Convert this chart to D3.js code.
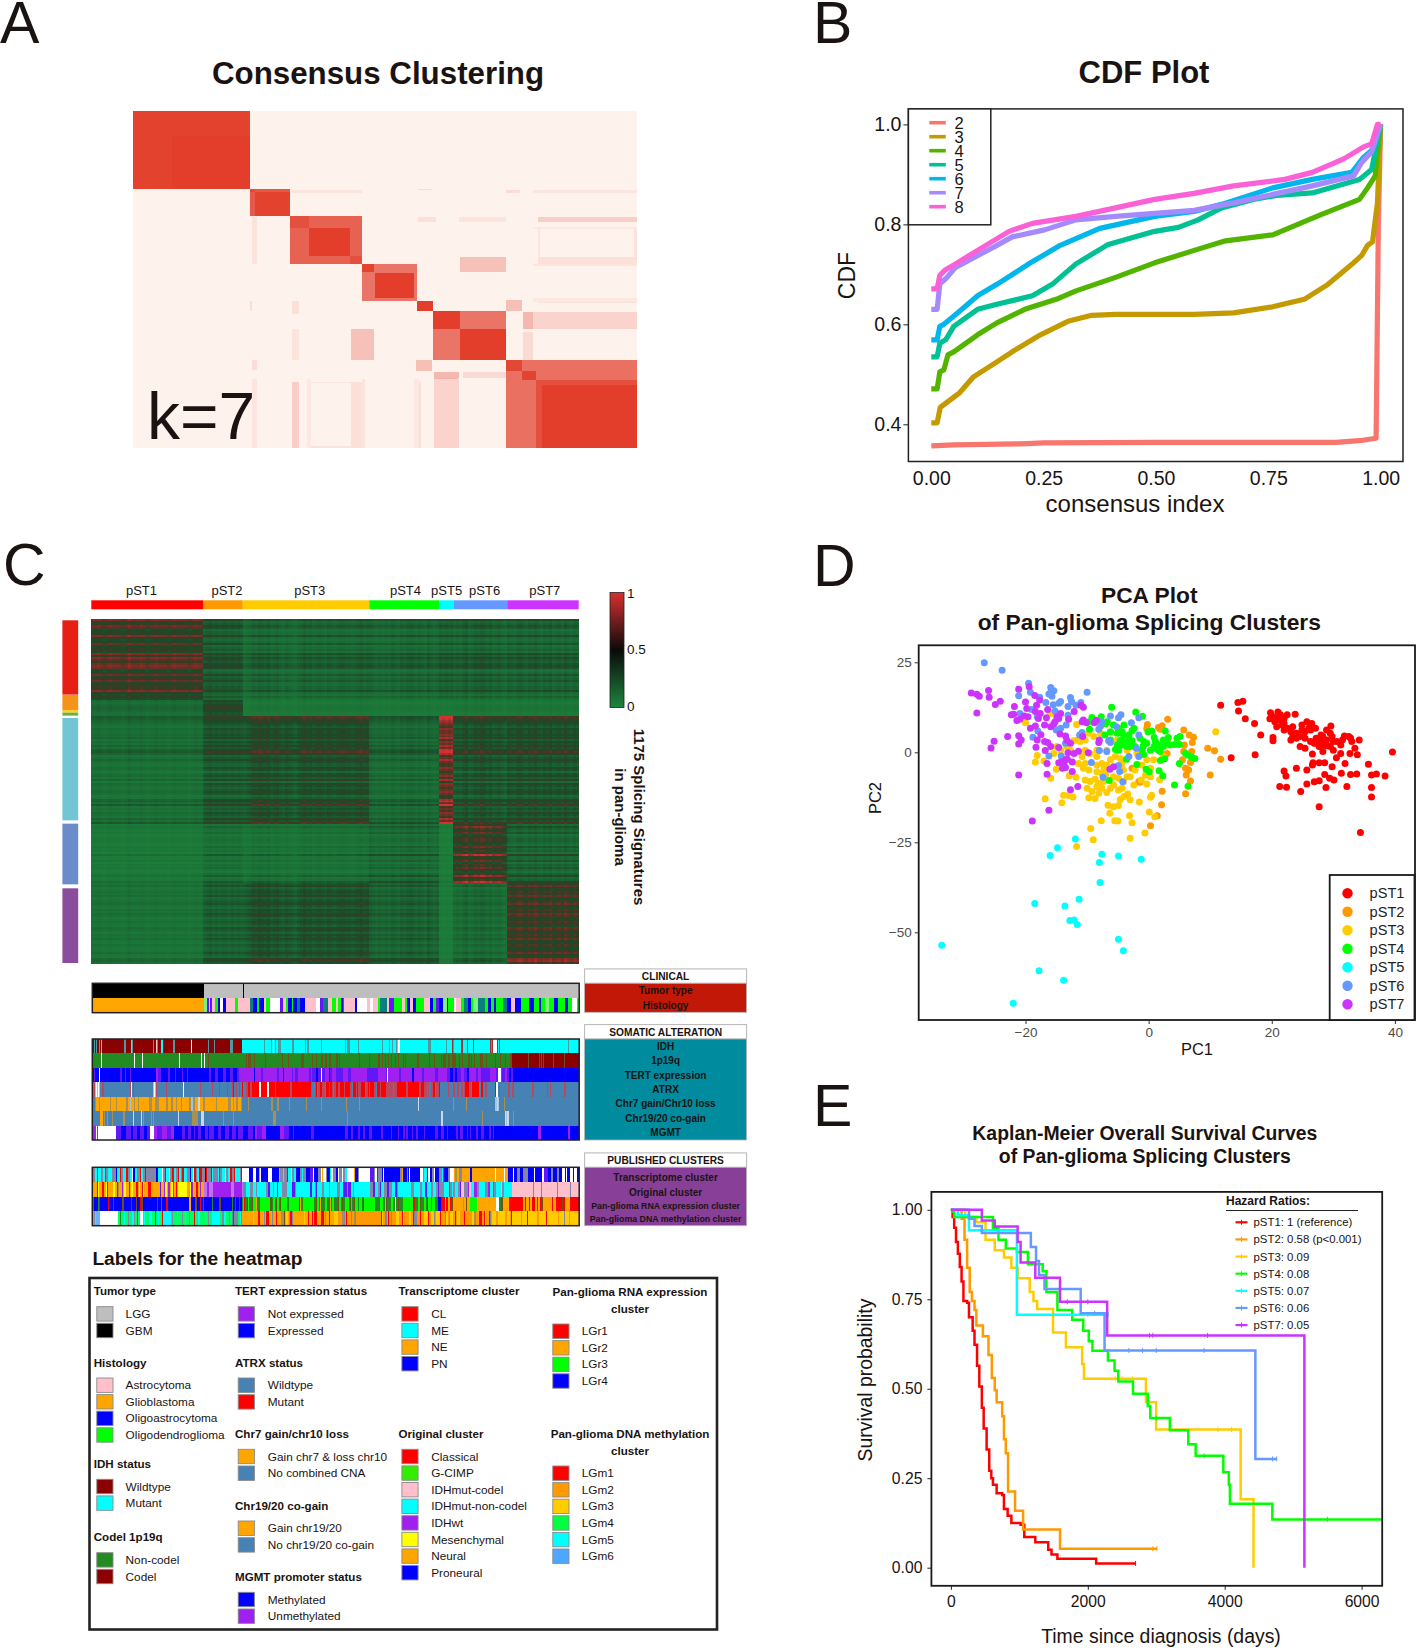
<!DOCTYPE html>
<html><head><meta charset="utf-8"><title>Pan-glioma splicing clusters</title>
<script src="https://cdnjs.cloudflare.com/ajax/libs/d3/7.8.5/d3.min.js"></script>
<style>html,body{margin:0;padding:0;background:#fff}svg{display:block}text{font-family:"Liberation Sans",Arial,sans-serif;fill:#1a1311}</style>
</head><body><svg id="c" width="1418" height="1648" xmlns="http://www.w3.org/2000/svg"></svg>
<script>
// ---------- DATA ----------
const clusterNames=["pST1","pST2","pST3","pST4","pST5","pST6","pST7"];
const clusterColors=["#FF0000","#FF9900","#FFCC00","#00FF00","#00FFFF","#6699FF","#CC33FF"];

// Panel A: consensus values on the sample order [rowFrom,rowTo,colFrom,colTo,consensus]
const consensusSamples=1115;
const consensusPatches=[
[262,273,365,505,.08],[257,262,630,660,.12],[262,273,825,855,.12],[262,273,885,1115,.07],[262,273,350,505,.08],
[350,366,895,1115,.2],[388,482,895,900,.07],[388,482,1108,1115,.09],[482,510,895,1115,.1],[350,366,630,670,.1],[350,366,720,825,.08],
[625,636,895,1115,.1],[625,660,825,860,.28],[664,719,865,1115,.2],[664,719,865,885,.36],[482,532,722,825,.27],
[862,884,665,720,.32],[862,884,730,825,.13],[885,1115,385,392,.06],[885,1115,505,512,.08],[885,1115,665,720,.17],[885,1115,620,632,.06],
[0,257,0,257,.98],[85,257,85,257,1],
[257,347,257,347,.85],[268,347,268,347,.98],[257,270,257,270,.93],
[347,505,347,505,.8],[388,480,388,480,1],[347,388,347,388,.9],[480,505,480,505,.9],
[505,628,505,628,.7],[505,532,505,532,.97],[535,620,535,620,1],
[628,662,628,662,1],
[662,825,662,825,.7],[662,722,662,722,1],[722,825,722,825,1],
[825,1115,825,1115,.72],[825,860,825,860,.95],[860,890,860,890,.97],[890,1115,890,1115,.9],[905,1115,905,1115,1]];

// Panel B: CDF curves [consensus index, CDF]
const cdfLabels=["2","3","4","5","6","7","8"];
const cdfColors=["#F8766D","#C49A00","#53B400","#00C094","#00B6EB","#A58AFF","#FB61D7"];
const cdf2=[[0,.357],[.05,.359],[.2,.361],[.25,.363],[.5,.364],[.9,.364],[.96,.368],[.99,.372],[.995,.8],[1,1]];
const cdf3=[[0,.403],[.013,.403],[.02,.434],[.054,.457],[.063,.463],[.094,.495],[.146,.525],[.18,.545],[.243,.579],[.304,.606],[.357,.618],[.41,.62],[.585,.62],[.673,.623],[.76,.635],[.83,.65],[.883,.68],[.936,.72],[.958,.738],[.971,.758],[.982,.765],[.993,.843],[1,1]];
const cdf4=[[0,.471],[.013,.471],[.019,.505],[.028,.509],[.037,.539],[.05,.545],[.103,.579],[.146,.603],[.208,.63],[.278,.65],[.322,.667],[.41,.694],[.497,.723],[.585,.748],[.655,.767],[.76,.779],[.813,.799],[.866,.819],[.953,.85],[.971,.873],[.988,.897],[1,1]];
const cdf5=[[0,.535],[.013,.535],[.019,.562],[.032,.569],[.05,.596],[.103,.63],[.146,.64],[.225,.657],[.269,.68],[.322,.721],[.392,.759],[.497,.786],[.55,.794],[.594,.809],[.646,.833],[.717,.85],[.769,.858],[.848,.863],[.953,.89],[.98,.91],[1,1]];
const cdf6=[[0,.569],[.013,.569],[.019,.596],[.028,.6],[.059,.623],[.103,.657],[.146,.68],[.217,.721],[.287,.758],[.375,.792],[.497,.816],[.585,.826],[.646,.84],[.76,.873],[.848,.89],[.936,.904],[.962,.934],[.98,.948],[1,1]];
const cdf7=[[0,.63],[.013,.63],[.019,.681],[.032,.691],[.054,.714],[.146,.758],[.18,.775],[.252,.789],[.322,.809],[.41,.816],[.585,.828],[.673,.843],[.76,.86],[.848,.877],[.94,.897],[.958,.924],[.98,.945],[1,1]];
const cdf8=[[0,.671],[.013,.671],[.019,.698],[.03,.708],[.054,.721],[.103,.748],[.173,.786],[.225,.802],[.322,.816],[.41,.833],[.497,.85],[.585,.862],[.673,.877],[.787,.89],[.848,.904],[.918,.931],[.962,.955],[.98,.961],[.993,1],[1,1]];
const cdfSeries=[cdf2,cdf3,cdf4,cdf5,cdf6,cdf7,cdf8];

// Panel C heatmap: mean PSI per row block x sample cluster, and row / column intensity read from the stripes
const heatBlocks=[[.42,.22,.16,.17,.19,.17,.17],[.18,.36,.09,.09,.08,.09,.09],[.15,.26,.3,.18,.66,.26,.28],[.09,.15,.13,.19,.06,.48,.21],[.12,.21,.27,.21,.06,.15,.42]];
const heatRowBlocks=["95687455954584564969768984458568556695464","54566544","9876546556574657589745754465356473654565347859454654759","475463455436453944635464358459","57456574567546576456547654657546545754896"];
const heatColClusters=["5565456555457555654556555456555545655","5675656656565","345768768567546543568675676576567766567867","65454546546567656547545","65656","565795687986856754","765786576865768567586576"];
const heatShadeStops=[0,.15,.3,.45,.6,.8,1];
const heatShades=["#1d853c","#1a6b35","#1b4a29","#3a3a23","#6a3024","#a22a28","#d8302f"];
const colorbarStops=[0,.5,1];
const colorbarColors=["#1d853c","#0a0a0a","#d8302f"];

// Left-hand row-cluster bar
const rowBarColors=["#E61E14","#F39318","#FFCC33","#6AB33C","#72C5D4","#6B8CCB","#8A4C9C"];
const rowBarBlocks=[[0,223],[224,269],[269,277],[277,286],[293,600],[610,792],[804,1028]];

// Annotation tracks: run-length encoded category sequences [left half, right half]; parts split by "/", "N=" pins a part to N samples
const trackColors={K:"#000000",G:"#BEBEBE",O:"#FFA500",P:"#FFC0CB",B:"#0000FF",L:"#00FF00",W:"#FFFFFF",l:"#80F080",v:"#6018F8",t:"#0A7F80",D:"#8B0000",C:"#00FFFF",g:"#4E9A9F",d:"#A03030",a:"#A8C4DC",F:"#228B22",x:"#70501A",V:"#A020F0",S:"#4682B4",R:"#FF0000",n:"#B84860",m:"#A89050",w:"#C8D8E8",z:"#8585A5",i:"#C070F0",Y:"#FFFF00",u:"#00FF66",j:"#66B3FF",q:"#FF9900",h:"#FFCC00"};
const trackClinical=[
["K112G39K1G91","G244"],
["112=O112/l2v2P1v1P3L2B2W2B3P7L3P10t2B3L2B4P2L3W8v3P2L2B3L1B3t3B4P2P7W3v3t4P3L3","P2L3B2t1P10B2W9P3W3P4L2t7P1v5L7P3L2B3P3B2L8P5B3L3v3B3l4B1L5W2P5L3t3B3L2l5t6L3B3L2B2L7t3B4P4B5L8B4L5B2L3l4L5B3L7B3L3W5L2"]];
const trackSomatic=[
["150=D2g1D1g1D2g1D1C1D22g2D5C1g1D20g1D2P1g1D3C2D10g2D16W1D16g1D5g1D15g3D9/C20g1C5g1C1W1C1g1C2g2C10g2C10g1C1g2C11g1C12","C9g1C1g3C8g1C22g1C6g1C2g1C3g1C1W1C28g2C15g1C5d1g1C7d1C4d1C5d1C16d1g1d1W3d1C1d1C66g1C10"],
["154=F9W1F32W1F7W1F36W1F21W1F2W1F3x1F38/x1F1x3F3x1F10x1F16x1F5x1F12x3F8x1F3x1F4x2F2x2F2x2F4","176=x2F1x1F18x1F8x1F8x1F2x1F2x1F2x1F2x1F2x1F2x1F4x1F1x1F10x2F9x1F4x1F5x1F1x3F2x2F2x3F3x1F2x1F4x2F1x1F2x1F5x2F3x1F8x1F3x1F4x1F4x1/D16x1D9x1D1x1D1x1D8x1D10x1D13"],
["150=B2v1B3W1B19v2B3v1B3v1B24V2v3B6v2B5v1B5v1B4v1B20v2B3v3B5v3B3v3B4v2V3/V10B1V5v2V12v2V3B1V7v1V2v2V10v2V1v3B2v2W1v3V3B1v2V3","177=v7V5v2V15v10V8v1W1V10v2V10B2V7v2V10v3V8v3B3v2B2v3V3v3B2V6v2V3v5v3V6v2W2V1v3V2v2B2v1/B68"],
["154=S2n1a1W1a1W1a1S2n2S27n1W1S1n1S20a1W1a1n1S10n1S16W1S17n1S11n1S7n1S7n1S4n1R1S2n1S2n1S3R1S3/n1R2n1R6W1R5W1R5n1R10n2R8R6n1S2n1R1S1n1R2n2S1R2n1R1n1S1n1","R2n1R3n1R4n1S1R2n1R1n2R3S1n1R1S1R3n1S1R2n1R4n2n3S1n2R7n1R8n2R2n2S1n1S1n2R1S1n2R1S6n1S3n1S2n1S2n1S1n1R3n1S1R5S2R1S2n1S6R1W1S1n1S6n1S2n1S14n1S10n1S1n1S10n1S10"],
["150=S2m1O3m1O8m1O4m1O8m2O1a1O3m1O2m1O9m2O3m3O6m2O3m1O3m1O3m1O6m2a2m1O3w2O2m2O2O7m1O10m2O2m1O2m1O3m1/S5m1S20m2S3m2S9m1S14m1S13m1S12","S10m1S12m1S58w1S34m1S12m1S28a2w1a1S5m1S74"],
["S8O2S1m1S2m1S4m1S10m2S8w1S7w1S1m1S6m1S1m1S24w1S13m5S3w3S19m1S9m1S38m3S58","S13m2S110w2S46m1S26w2a1w2S5m1S77"],
["29=V4W1V1W18v5/B3v4B1v3B2v3B2v2W3V2v4V3v3V2B6v2B2v2B2v1B2v2B3v2B1v3B3v2B3v3B2v3B1v4B3v4B1V2v3V3B10V3v3B3v1B12v2B15","B9v2B3v2B4v2B3v2B3v3B8v2B7v1B6v1B3v2B1v2B3v1B3v2B5v1B9v3B3v2B3v1B7v2B2v3B3v1B2v1B4v2B3v3B4v2B2v1B40V2B25V2B8"]];
const trackPublished=[
["150=z3C2R1C3z2C2R1z2C4R1z4B1C3R1z2C3R2z2C2W1B2C2R1z3R1C2z2R1z10B2C4W2z2R1C3W1z2R2C2z2R1C2z1R2C3R1z3B1C2W1R2z1C2R3z3B1R1z4R1C2z5C1R1z2C3W1z2C2R2z2R1C2R1O1C2z1R1/W5B3W2B2C1W1B5W3B5C1z2C1z2R1C2W1z1C2B3z1C1z2B3v2W1B3z2W1O1W2z1B2C1W1z2","136=B2W1z2W1z2C1W6O1B2z1W9v3z1W1v1z3B1W1B8B5z1O1B3z1B1W1B8W2z1C2B1W2B1z2W1B3z2C1R1B3z2W3O1m1O2z2O7B1/36=O25W2O8W1O3/B5W1B3z3B3z3z2B6W1B7W2v4B2z2B4z2B3W3B1W1B3W3B1W3B2"],
["112=m1O3R1Y1O3R1O2Y1R1O4Y2O2R1m1O2V1O1Y2O2R1O1Y2O3R1O1Y1O2R1Y1O3R3O8v1O2V1Y2O1V2O1Y1V1O2R1O1Y8O2Y1R1V1O3R1O2V1O3/39=i2V2i3V1V15i2V7i1/g2C3z2C2z1C6z2v1C2z1C2v1C3z3C4v2z1C10v1C2z1v1C3z2C3z1C4","176=C1z2C2v2z1v2C1z1C10z2v1C2z1v1C2z2v1z2C2v1z1C8z2C4z1C2v1C3z1C2z1v1z3C3v1z1C1z1C2z1v1P2z2V1P1C2V2z1C4z2V1C2V1z1C3P1z1C5/P25z1P8z1P17z1P14z1P9"],
["150=B1F1B3F1R1B8R1B4R1B7x2B7R1B3x1B3R2x1B13R1B3F1B4R2B20O1B4x2B3R1B2x1B7F1B6R1x1B10F1B2R1B3R1B2/F1L1R1F2x1L1R1F2x1L3O1F2L10x2F1L2F1x1L2F1x1L6F2L10x1O1F2L11F2x1L2F1O1x1F3L2R1F2O1x1L2F1","173=F2x1L2F1x1F2L3F1x1L1F2x1L2F1L3F1x1L10x1F3L3x1F1O1x1F3L2F2W1F2x1F3L9R2F3L2x1F2L2F1x1L3F1L2x1F2B3v1R2O1R2O2R1x2O9L1O1x1O3L6O18W2F2x2O5/R13O2R1O3R1O2R2O2x1O2R1x2O8R1O3R5x1R2O5R8"],
["29=u2z1C1j3W18u2F1/121=u3C1u2z1u3C2z1u2R1u2W3u1C1u4C2u3R1u2C1u3R1C8u1z1u3C1u4z1u2C1u3z1u4R1u3C1u5C1u2z1u3C8u2z1C2u3z1u2g1R1z4u2C1z1/O8h1O3R1O3z1O1R2O2z1O2R1O3m2x1O1h1O1m1R1z1O8h1O2R1O2R1O1R2O3R2O1m1O2R1O3h1","h2q4m1z1q1R1q3z1q2m1z1q9q12R1h1q2z1q1R1q2z1q3h3q2R1h1q4h2q2R1z2q3R1q2h4R1q1h3z1q1h3R1q3z1h2q1m1h2q2R1q1h2q4R1q6h1m2q3R2q2R1h1q2R1z1q1h3q2h6q2h2q1R1h8q1h4R1h8q1h6R1h10q1h4z1h3q1h8"]];

const clinicalLabels=["Tumor type","Histology"];
const somaticLabels=["IDH","1p19q","TERT expression","ATRX","Chr7 gain/Chr10 loss","Chr19/20 co-gain","MGMT"];
const publishedLabels=["Transcriptome cluster","Original cluster","Pan-glioma RNA expression cluster","Pan-glioma DNA methylation cluster"];

// Labels for the heatmap
const legendColumn1=[
{head:["Tumor type"],items:[["LGG","#BEBEBE"],["GBM","#000000"]]},
{head:["Histology"],items:[["Astrocytoma","#FFC0CB"],["Glioblastoma","#FFA500"],["Oligoastrocytoma","#0000FF"],["Oligodendroglioma","#00FF00"]]},
{head:["IDH status"],items:[["Wildtype","#8B0000"],["Mutant","#00FFFF"]]},
{head:["Codel 1p19q"],items:[["Non-codel","#228B22"],["Codel","#8B0000"]]}];
const legendColumn2=[
{head:["TERT expression status"],items:[["Not expressed","#A020F0"],["Expressed","#0000FF"]]},
{head:["ATRX status"],items:[["Wildtype","#4682B4"],["Mutant","#FF0000"]]},
{head:["Chr7 gain/chr10 loss"],items:[["Gain chr7 & loss chr10","#FFA500"],["No combined CNA","#4682B4"]]},
{head:["Chr19/20 co-gain"],items:[["Gain chr19/20","#FFA500"],["No chr19/20 co-gain","#4682B4"]]},
{head:["MGMT promoter status"],items:[["Methylated","#0000FF"],["Unmethylated","#A020F0"]]}];
const legendColumn3=[
{head:["Transcriptome cluster"],items:[["CL","#FF0000"],["ME","#00FFFF"],["NE","#FFA500"],["PN","#0000FF"]]},
{head:["Original cluster"],items:[["Classical","#FF0000"],["G-CIMP","#33EE00"],["IDHmut-codel","#FFC0CB"],["IDHmut-non-codel","#00FFFF"],["IDHwt","#A020F0"],["Mesenchymal","#FFFF00"],["Neural","#FFA500"],["Proneural","#0000FF"]]}];
const legendColumn4=[
{head:["Pan-glioma RNA expression","cluster"],items:[["LGr1","#FF0000"],["LGr2","#FFA500"],["LGr3","#00FF00"],["LGr4","#0000FF"]]},
{head:["Pan-glioma DNA methylation","cluster"],items:[["LGm1","#FF0000"],["LGm2","#FF9900"],["LGm3","#FFCC00"],["LGm4","#00FF40"],["LGm5","#00FFFF"],["LGm6","#4DA6FF"]]}];

// Panel D: PCA scores [PC1,PC2]
const pcaST1=[[11.7,13.1],[14.5,13.8],[15.3,14.2],[14.6,11.5],[15.7,9.3],[17.2,8],[18.2,4.8],[17.3,-.7],[13.4,-1.5],[19.8,11],[21,11.2],[20.2,9.9],[19.7,9.3],[20.5,8.5],[21.4,10.4],[22,9.4],[22.5,10.4],[23.8,10.6],[20.8,7.1],[21.7,7.6],[22.5,6.7],[23.4,7.1],[23.1,5.7],[24,5.3],[24.9,7.6],[25.7,8.5],[26.5,8],[24.6,4.4],[25.4,5.7],[26.3,6.2],[27.1,6.7],[23.1,3.4],[20.2,4.1],[20.2,3.2],[24,3.9],[25.4,3.9],[24.6,1.6],[25.4,1.1],[26.3,3],[27.2,3.9],[28,4.8],[28.9,6.2],[29.6,7.3],[28.9,3.4],[29.8,4.4],[30.6,3],[31.8,4.5],[32.5,4.4],[34.2,3.4],[33,3],[31.2,2],[33.5,1.1],[27.2,2.5],[28,3],[27.7,1.6],[26.6,-.5],[28.3,.2],[29.5,1.6],[30,.6],[31.2,-.3],[32.7,-.3],[33.9,-.7],[30.5,-1.5],[31.9,-3.1],[29.8,-4],[26.7,-2.9],[27.7,-2.9],[28.6,-2.9],[26.6,-3.5],[24,-4.4],[25.7,-4.9],[22,-5.2],[22.3,-6.6],[28.6,-6.2],[29.4,-7.2],[30.1,-7.7],[31.3,-5.8],[32.8,-6.2],[33.8,-6],[35.7,-3.3],[36.2,-6.3],[37,-6],[38.4,-6.6],[39.6,.1],[36.2,-9.8],[36.2,-12.4],[34.4,-22.3],[27.7,-15.1],[21.3,-9.5],[22.4,-9.7],[24.7,-10.9],[25.7,-8.8],[26.9,-8.2],[27.7,-7.9],[28.8,-9.8],[32.2,-9.5],[21.1,9],[22,8],[20.9,9.4],[24.9,6.2],[29.5,5.3],[28.3,4.4],[26.9,2.5],[27.5,3.4],[28.6,2],[26,6.7],[23.4,4.3],[22,6.2],[30,3],[31.5,3.5],[32.8,4],[29,1.8]];
const pcaST2=[[3.1,9.2],[-.2,7.7],[-.3,6.7],[1.6,6.9],[2.2,7.4],[1.9,6.4],[5.7,6.2],[6.6,4.8],[7.3,4.2],[7.1,2.7],[5.8,2],[9.6,1.1],[10,-6.3],[5.7,.2],[7,.2],[3,-.3],[5.5,-2.1],[6.8,-2.8],[6,-4.4],[6.5,-4.9],[6.1,-6.3],[6.8,-8],[6,-11.5],[2.2,-10.8],[2.1,-14.6],[1.4,-17.6],[.3,-20.4],[-2.7,-4.4],[-1.4,-8.3],[-1.6,-8.1],[3,3.4],[10.7,.4],[11.7,-1.9]];
const pcaST3=[[-20,8.2],[-15.9,10.8],[-11.7,7.7],[-11.6,3.4],[-12.2,3.2],[-11.1,3],[-9.7,5.3],[-8.9,4.4],[-18.1,-.9],[-18.4,-2.7],[-14.9,1.6],[-15.4,-.3],[-17,-2.4],[-15,-4.7],[-15.9,-7.2],[-12.9,-6.5],[-11.8,-6.9],[-10.3,.6],[-10.8,-1.2],[-9.5,-.3],[-8.4,-1.2],[-10.3,-3.1],[-9.7,-4.9],[-8.4,-5.4],[-7.6,-3.1],[-7.2,-4.4],[-7.6,-5.8],[-6.2,-2.1],[-5.4,-1.2],[-4.6,-1.7],[-4.3,-3.1],[-5.7,-6.8],[-3.5,-6.8],[-3,-6.8],[-2.4,-9.1],[-1.2,-7.7],[-.3,-8.8],[.3,-6.8],[1.8,-7.6],[-10.3,-7.7],[-9.5,-8.1],[-8.7,-7.5],[-8.1,-8.6],[-7.3,-8.1],[-8.4,-9.5],[-7.6,-10],[-6.8,-11.2],[-5.7,-9.1],[-4.3,-10],[-10,-10],[-9.7,-12.6],[-8.7,-12.8],[-13,-12],[-13.8,-11.9],[-12.3,-12.4],[-14.1,-14],[-16.8,-12.9],[-3.4,-11.6],[-4,-12.3],[-4.6,-13.1],[-3,-13.2],[-1.5,-13.8],[.5,-11.9],[.3,-12.5],[-6.6,-14.7],[-5.7,-15.1],[-4.9,-14.8],[-6.3,-16.9],[-3.1,-17.6],[.1,-16.6],[1,-17.9],[-7.7,-19],[-5.5,-19],[-5,-19.1],[-2.7,-19.6],[-9.4,-21.2],[-.6,-22.4],[-9,-24.3],[-3,-23.9],[-11.7,-26.2],[-5.1,-4],[-4.1,-4.9],[-6.8,-3.5],[-8.4,-3.5],[-3.5,.6],[-1.9,-.3],[-.3,-2.1],[.8,-2.1],[2.4,-1.2],[-1.1,-3.5],[-2.2,-4.9],[.3,-4.4],[-.5,-6.3],[-4.9,-10.5],[-6.2,-10],[-9.2,-10.9],[-8.1,-11.4],[-4.1,-8.1],[-4.9,-7.2],[-7,-6.3],[-10.6,-4.4],[-14.3,.6],[-11.4,-3.1],[-12.7,.6],[-13.3,1.6],[-10.3,3.4],[-7.8,5.3],[-8.4,.6],[-6.8,.6],[-5.1,3.4],[10.9,5.7]];
const pcaST4=[[-6,12.5],[-2.1,11.2],[-1,10],[-9.2,9.7],[-7.7,9.9],[-9.7,8.5],[-9.6,6.4],[-4,7.6],[-6.7,8.5],[-5.7,7.6],[-6.2,5.7],[-7.1,4.8],[-5.1,5.3],[-4.3,5.7],[-2.7,6],[-2.4,6.7],[-3.2,4.8],[2.7,5.9],[.5,5.9],[-.1,5.7],[5.1,4.4],[4.6,3.9],[.9,4.1],[3.2,4.1],[-6.2,3.4],[-4.6,3.2],[-4.1,3],[-3.2,3.4],[-2.7,3.2],[-5.1,2],[-4.3,2],[-3.5,1.6],[-2.7,2.2],[-2.2,1.6],[1.1,3],[1.6,2],[.9,1.6],[3,2.7],[3.5,2],[4.2,2.2],[5,2.2],[-.9,1.6],[-.3,2.5],[-.8,3],[-5.4,.8],[-4.9,.6],[-3,1.6],[-.8,-.6],[1.2,1.1],[1.9,.2],[1.6,.6],[2.4,1.6],[-3.6,-1.9],[1.9,-2.3],[2.6,-1.8],[6,-.3],[6.4,-.8],[7,-1.4],[7.5,-1.7],[5,-3.1],[-1.9,-3.4],[-.4,-4.7],[.1,-5.4],[1.7,-5.1],[2.3,-6.5],[-6.4,-7.8],[4.2,-9.1],[6.4,-9.4],[-7,7.9],[-1.1,.6],[.3,.6],[-4.1,4.8],[-4.9,6.7],[-1.4,3.9],[2.4,3.4]];
const pcaST5=[[-11.9,-24.1],[-14.8,-26.5],[-16,-28.7],[-7.6,-28.3],[-8,-30.6],[-4.9,-28.8],[-1.2,-29.7],[-7.9,-36.2],[-11.3,-40.8],[-18.5,-42],[-13.6,-42.7],[-12.8,-46.7],[-12.1,-46.6],[-11.6,-47.8],[-4.9,-51.9],[-4.1,-55.1],[-33.6,-53.6],[-17.8,-60.7],[-13.8,-63.3],[-22,-69.7]];
const pcaST6=[[-26.7,24.9],[-23.8,22.8],[-19.5,19.2],[-21.1,15.7],[-19.2,16.7],[-15.9,18],[-15.4,17.1],[-16.2,16.2],[-15.7,15.6],[-15.9,16.6],[-10,16.7],[-17.7,15.3],[-16.7,13.8],[-15.5,13.2],[-14.6,13.6],[-14.3,14.1],[-12.7,15.2],[-12.5,14.1],[-13.1,12.7],[-11.8,13.1],[-11,13.8],[-15.2,11.5],[-19,11.9],[-20.9,10.8],[-18.1,9.9],[-13.1,10.3],[-15,6.2],[-14.3,6.7],[-13.4,7.6],[-18,5.9],[-18.8,4.2],[-13.5,2.5],[-6.2,10.1],[-4.5,10.4],[-4.9,9.6],[-7.6,8.5],[-7.8,7.3],[-8.1,6.4],[-5.2,7.1],[-2.8,8.2],[-1.6,9.6],[-10.8,5.5],[-11.2,4.8],[-1.6,4.8],[-6.5,3.2],[-6.2,2.7],[-8,.5],[-6.8,.2],[-2,1.1],[-16.2,-1],[-14.2,-1],[-3.2,-1.2],[-1.6,-1.2],[-9.3,-2.8],[-4.9,-3.7],[-4.7,-5.3],[-7.4,-6.9],[-4.2,-8.2]];
const pcaST7=[[-28.8,16.5],[-27.9,16.1],[-27.5,15.6],[-26,17.2],[-25.9,15.3],[-24.9,13.3],[-24.1,14.2],[-27.9,10.9],[-21.1,17.5],[-19.4,18.2],[-18.5,15.8],[-17.7,14.5],[-18.2,13.1],[-20,14],[-21.8,12.7],[-19.8,12.2],[-16.4,11.9],[-22.3,10.4],[-21.9,10.6],[-20.2,10.1],[-19.6,9.9],[-21.4,8.8],[-20.9,9.2],[-18.4,11.3],[-17.6,10.8],[-16.6,9.6],[-17.9,9.4],[-19.2,6.7],[-18.4,7.3],[-16.9,7.6],[-15.9,7.1],[-15.2,8.5],[-14.6,9.4],[-15.4,7.9],[-14.9,9.9],[-14.3,10.8],[-13,9.2],[-12.1,11.3],[-11,13.1],[-10.6,12.5],[-10.6,9],[-10.1,8.2],[-8.8,8.2],[-8.5,8.8],[-10.8,8.5],[-22.9,4.4],[-25.1,3.1],[-25.6,1.2],[-21.1,4.6],[-20.7,3.4],[-21.1,2.3],[-17.5,4.9],[-18.1,3.4],[-18.3,1.4],[-16.9,3],[-16.4,2.7],[-15.9,1.6],[-16.8,.5],[-14.6,1.3],[-14.4,5.1],[-13.5,4.5],[-13.3,3.4],[-12.7,2.5],[-13.1,-.1],[-12.1,-.3],[-11.4,.3],[-9.8,-.1],[-10.7,4.4],[-8,3.4],[-8.1,2.7],[-16.5,-3.1],[-14.6,-2.9],[-14.1,-2.6],[-13.5,-2.1],[-13.2,-1.9],[-13.8,-3.5],[-13.5,-4.2],[-12.4,-2.7],[-12.4,-5.3],[-14,-4.4],[-6.3,-4.7],[-5.7,-4],[-21.1,-6.3],[-16.5,-6.1],[-12.7,-10.4],[-11.5,-9.5],[-16.2,-16.1],[-18.9,-19.1]];
const pcaSeries=[pcaST1,pcaST2,pcaST3,pcaST4,pcaST5,pcaST6,pcaST7];

// Panel E: Kaplan-Meier steps [day, survival]
const kmST1=[[0,1],[25,.98],[48,.95],[75,.91],[102,.877],[130,.84],[156,.8],[183,.745],[237,.74],[264,.7],[318,.662],[345,.623],[382,.564],[415,.506],[452,.447],[479,.389],[522,.33],[560,.271],[590,.25],[614,.232],[668,.208],[749,.203],[775,.164],[829,.145],[883,.125],[1018,.12],[1072,.086],[1233,.071],[1422,.05],[1470,.037],[1556,.025],[2122,.012],[2698,.012]];
const kmST2=[[0,1],[156,.975],[199,.916],[237,.838],[275,.77],[307,.745],[345,.72],[372,.677],[468,.647],[549,.594],[598,.53],[641,.496],[668,.462],[749,.423],[775,.359],[802,.32],[835,.213],[937,.159],[1055,.107],[1594,.053],[3010,.053]];
const kmST3=[[0,1],[210,.98],[372,.965],[506,.916],[641,.887],[775,.867],[883,.838],[975,.809],[1152,.77],[1206,.745],[1260,.723],[1492,.657],[1680,.616],[1917,.569],[1944,.528],[2849,.462],[2999,.386],[4233,.191],[4421,0]];
const kmST4=[[0,.995],[48,.98],[614,.95],[695,.916],[802,.892],[964,.882],[1125,.848],[1341,.828],[1395,.77],[1556,.72],[1772,.693],[1933,.662],[2014,.633],[2068,.606],[2294,.579],[2391,.55],[2445,.52],[2660,.486],[2876,.452],[2913,.418],[3199,.384],[3468,.345],[3576,.3125],[3980,.267],[4060,.232],[4076,.179],[4696,.135],[6296,.135]];
const kmST5=[[0,1],[100,.985],[264,.943],[964,.707],[2299,.707]];
const kmST6=[[0,1],[264,.975],[345,.955],[452,.935],[1168,.896],[1244,.857],[1287,.818],[1368,.779],[1896,.711],[2245,.607],[4448,.304],[4760,.304]];
const kmST7=[[0,1],[452,.97],[641,.953],[975,.91],[1018,.853],[1233,.81],[1594,.743],[2283,.649],[5164,0]];
const kmSeries=[kmST1,kmST2,kmST3,kmST4,kmST5,kmST6,kmST7];
const kmCensored=[[2698],[3010,2950],[2500,2650,3900,4100,2400],[3700,5500,5165,3000],[1500,2000,2299],[2100,2600,2800,3000,3700,4700,4760],[2900,2950,3750,1700,2000]];
const hazardLabels=["pST1: 1 (reference)","pST2: 0.58 (p<0.001)","pST3: 0.09","pST4: 0.08","pST5: 0.07","pST6: 0.06","pST7: 0.05"];

// ---------- DRAWING ----------
const svg=d3.select("#c");
const txt=(g,x,y,s,size,o={})=>g.append("text").attr("x",x).attr("y",y).attr("font-size",size)
  .attr("font-weight",o.bold?"bold":"normal").attr("text-anchor",o.anchor||"start")
  .attr("dominant-baseline",o.base||"central").attr("transform",o.rot?`rotate(${o.rot} ${x} ${y})`:null)
  .style("fill",o.fill||null).text(s);

// panel letters
[["A",0,43],["B",813,43],["C",3,585],["D",813,585.5],["E",813,1125.5]].forEach(([s,x,y])=>txt(svg,x,y,s,59,{base:"auto"}));

// ---- Panel A
txt(svg,378,73,"Consensus Clustering",31.3,{bold:true,anchor:"middle"});
const ax=d3.scaleLinear().domain([0,consensusSamples]).range([133.4,637.4]);
const ay=d3.scaleLinear().domain([0,consensusSamples]).range([110.7,448.3]);
const ac=d3.scaleLinear().domain([0,1]).range(["#fef2ed","#e23e2b"]);
const gA=svg.append("g").attr("shape-rendering","crispEdges");
gA.append("rect").attr("x",ax(0)).attr("y",ay(0)).attr("width",ax(consensusSamples)-ax(0)).attr("height",ay(consensusSamples)-ay(0)).attr("fill",ac(0));
const mirrored=consensusPatches.flatMap(p=>[p,[p[2],p[3],p[0],p[1],p[4]]]);
gA.selectAll("rect.p").data(mirrored).join("rect").attr("class","p")
  .attr("x",d=>ax(d[2])).attr("width",d=>ax(d[3])-ax(d[2])).attr("y",d=>ay(d[0])).attr("height",d=>ay(d[1])-ay(d[0])).attr("fill",d=>ac(d[4]));
txt(svg,147,438.5,"k=7",66,{base:"auto"});

// ---- Panel B
txt(svg,1144,72.7,"CDF Plot",31,{bold:true,anchor:"middle"});
const bx=d3.scaleLinear().domain([0,1]).range([931.3,1380.6]);
const by=d3.scaleLinear().domain([.4,1]).range([424.3,124.4]);
const gB=svg.append("g");
const bLine=d3.line().x(d=>bx(d[0])).y(d=>by(d[1]));
gB.selectAll("path.c").data(cdfSeries).join("path").attr("class","c").attr("d",bLine).attr("fill","none")
  .attr("stroke",(d,i)=>cdfColors[i]).attr("stroke-width",5.2).attr("stroke-linejoin","round");
gB.append("rect").attr("x",908.4).attr("y",108.9).attr("width",494.6).attr("height",352.6).attr("fill","none").attr("stroke","#222").attr("stroke-width",1.5);
const axB=gB.append("g").attr("transform","translate(0,461.5)").call(d3.axisBottom(bx).tickValues([0,.25,.5,.75,1]).tickFormat(d3.format(".2f")).tickSize(0).tickPadding(10));
axB.select(".domain").remove();axB.selectAll("text").attr("font-size",19.5).attr("dy",".71em");
const ayB=gB.append("g").attr("transform","translate(908.4,0)").call(d3.axisLeft(by).tickValues([.4,.6,.8,1]).tickFormat(d3.format(".1f")).tickSize(5).tickPadding(2));
ayB.select(".domain").remove();ayB.selectAll("text").attr("font-size",19.5);ayB.selectAll("line").attr("stroke","#222");
txt(gB,1135,503.7,"consensus index",24,{anchor:"middle"});
txt(gB,847,275.5,"CDF",23,{anchor:"middle",rot:-90});
gB.append("rect").attr("x",908.4).attr("y",108.9).attr("width",82.4).attr("height",115.9).attr("fill","#fff").attr("stroke","#222").attr("stroke-width",1.5);
cdfLabels.forEach((s,i)=>{const y=122.7+i*14;
  gB.append("line").attr("x1",929.3).attr("x2",945.8).attr("y1",y).attr("y2",y).attr("stroke",cdfColors[i]).attr("stroke-width",3.6);
  txt(gB,954.5,y,s,16.5);});

// ---- Panel C heatmap
const colSlices=heatColClusters.flatMap((s,c)=>s.split("").map(d=>({c,f:1+(+d-5.5)*.09})));
const rowSlices=heatRowBlocks.flatMap((s,b)=>s.split("").map(d=>({b,f:+d/5.5})));
const clusterColCount=heatColClusters.map(s=>s.length);
const clusterEdges=[91.3,203,242.8,369.3,439.4,453.4,507.2,578.7];
let cc=0;colSlices.forEach((d,i)=>{if(i===0||colSlices[i-1].c!==d.c)cc=0;d.k=cc++;});
const hx=(c,k)=>d3.scaleLinear().domain([0,clusterColCount[c]]).range([clusterEdges[c],clusterEdges[c+1]])(k);
const hy=d3.scaleBand().domain(d3.range(rowSlices.length)).range([619.3,964]);
const hc=d3.scaleLinear().domain(heatShadeStops).range(heatShades).clamp(true);
const gH=svg.append("g").attr("shape-rendering","crispEdges");
const cells=[];rowSlices.forEach((r,ri)=>colSlices.forEach(cS=>{cells.push({ri,c:cS.c,k:cS.k,v:heatBlocks[r.b][cS.c]*r.f*cS.f});}));
gH.selectAll("rect").data(cells).join("rect").attr("x",d=>hx(d.c,d.k)).attr("width",d=>hx(d.c,d.k+1)-hx(d.c,d.k)+.3)
  .attr("y",d=>hy(d.ri)).attr("height",hy.bandwidth()+.3).attr("fill",d=>hc(d.v));
// top cluster bar
const gTop=svg.append("g");
clusterNames.forEach((n,i)=>{gTop.append("rect").attr("x",clusterEdges[i]).attr("y",600.3).attr("width",clusterEdges[i+1]-clusterEdges[i]).attr("height",9).attr("fill",clusterColors[i]);});
[141.5,227,309.7,405.5,446.6,484.6,544.8].forEach((x,i)=>txt(gTop,x,590,clusterNames[i],13,{anchor:"middle"}));
// left bar
const ly=d3.scaleLinear().domain([0,1028]).range([620.3,963]);
svg.append("g").selectAll("rect").data(rowBarBlocks).join("rect").attr("x",62.4).attr("width",15.8)
 .attr("y",d=>ly(d[0])).attr("height",d=>ly(d[1])-ly(d[0])).attr("fill",(d,i)=>rowBarColors[i]);
// colour bar
const defs=svg.append("defs");
const lg=defs.append("linearGradient").attr("id","cbar").attr("x1",0).attr("x2",0).attr("y1",1).attr("y2",0);
lg.selectAll("stop").data(colorbarStops).join("stop").attr("offset",d=>d).attr("stop-color",(d,i)=>colorbarColors[i]);
svg.append("rect").attr("x",610).attr("y",592.5).attr("width",14).attr("height",115).attr("fill","url(#cbar)").attr("stroke","#222").attr("stroke-width",.8);
txt(svg,627,593,"1",13.5);txt(svg,627,649,"0.5",13.5);txt(svg,627,706,"0",13.5);
txt(svg,639,817,"1175 Splicing Signatures",15,{bold:true,anchor:"middle",rot:90});
txt(svg,620,817,"in pan-glioma",15,{bold:true,anchor:"middle",rot:90});

// tracks
function parseParts(s,width){
  // every part is stretched to its pinned sample count; the unpinned part fills what is left
  const parts=s.split("/").map(p=>{const m=p.match(/^(\d+)=(.*)$/);const body=m?m[2]:p;const runs=[];let t=0;
    for(const r of body.matchAll(/([A-Za-z])(\d+)/g)){runs.push({k:r[1],a:t,b:t+ +r[2]});t+=+r[2];}
    return {pin:m?+m[1]:null,runs,total:t};});
  const pinned=d3.sum(parts,p=>p.pin||0);const free=parts.filter(p=>p.pin===null).length||1;
  let at=0;const out=[];
  parts.forEach(p=>{const w=p.pin!==null?p.pin:(width-pinned)/free;
    const f=w/p.total;p.runs.forEach(r=>out.push({k:r.k,a:at+r.a*f,b:at+r.b*f}));at+=w;});
  return out;
}
function drawTracks(tracks,top,rowH){
  const g=svg.append("g").attr("shape-rendering","crispEdges");
  tracks.forEach((tr,i)=>{
    [[tr[0],92.3,335.5],[tr[1],335.5,579.2]].forEach(([s,x0,x1])=>{
      const runs=parseParts(s,x1-x0);
      const sx=d3.scaleLinear().domain([0,x1-x0]).range([x0,x1]);
      g.selectAll(null).data(runs).join("rect").attr("x",d=>sx(d.a)).attr("width",d=>sx(d.b)-sx(d.a)+.2)
        .attr("y",top+i*rowH).attr("height",rowH).attr("fill",d=>trackColors[d.k]);
    });
  });
  svg.append("rect").attr("x",92.3).attr("y",top).attr("width",486.9).attr("height",rowH*tracks.length).attr("fill","none").attr("stroke","#222").attr("stroke-width",1.5);
}
drawTracks(trackClinical,983.3,14.7);
drawTracks(trackSomatic,1039,14.43);
drawTracks(trackPublished,1167.3,14.6);
// side label boxes
function sideBox(title,top,fill,labels,rowH,ys,sizes){
  const g=svg.append("g");
  g.append("rect").attr("x",584.6).attr("y",top-14.4).attr("width",162).attr("height",14.4).attr("fill","#fff").attr("stroke","#b5b5b5").attr("stroke-width",1);
  g.append("rect").attr("x",584.6).attr("y",top).attr("width",162).attr("height",rowH*labels.length).attr("fill",fill).attr("stroke","#b5b5b5").attr("stroke-width",.8);
  txt(g,665.6,top-7,title,10.2,{bold:true,anchor:"middle"});
  labels.forEach((l,i)=>txt(g,665.6,ys?ys[i]:top+rowH*(i+.5),l,sizes?sizes[i]:10,{bold:true,anchor:"middle"}));
}
sideBox("CLINICAL",983.3,"#C21807",clinicalLabels,14.5);
sideBox("SOMATIC ALTERATION",1039,"#008B9E",somaticLabels,14.43);
sideBox("PUBLISHED CLUSTERS",1167.3,"#883F98",publishedLabels,14.6,[1177.7,1192.3,1205.7,1219],[10,10,8.8,8.8]);

// heatmap labels
txt(svg,92.4,1258,"Labels for the heatmap",19.2,{bold:true});
svg.append("rect").attr("x",89.5).attr("y",1278).attr("width",627.5).attr("height",351.5).attr("fill","none").attr("stroke","#222").attr("stroke-width",2.6);
function drawLegendCol(groups,headX,swX,textX,heads,rowH,centerX){
  const g=svg.append("g");
  groups.forEach((grp,gi)=>{
    let y=heads[gi];
    grp.head.forEach((h,k)=>{
      if(centerX) txt(g,centerX,y+k*17,h,11.6,{bold:true,anchor:"middle"});
      else txt(g,headX,y,h,11.6,{bold:true});
    });
    y+=(grp.head.length-1)*17+23.2;
    grp.items.forEach(([n,c],i)=>{
      g.append("rect").attr("x",swX).attr("y",y+i*rowH-7.2).attr("width",16.2).attr("height",14.4).attr("fill",c).attr("stroke","#8a8a8a").attr("stroke-width",.9);
      txt(g,textX,y+i*rowH,n,11.8);
    });
  });
}
drawLegendCol(legendColumn1,93.7,96.8,125.6,[1290.7,1362,1463.3,1536.7],16.6);
drawLegendCol(legendColumn2,235,238.2,267.8,[1290.7,1362,1433.3,1505,1576.3],16.7);
drawLegendCol(legendColumn3,398.4,401.9,431.2,[1290.7,1433.3],16.6);
drawLegendCol(legendColumn4,551.4,552.8,581.7,[1291,1433],16.6,630);

// ---- Panel D
txt(svg,1149.3,595,"PCA Plot",22.8,{bold:true,anchor:"middle"});
txt(svg,1149.3,622.3,"of Pan-glioma Splicing Clusters",22.8,{bold:true,anchor:"middle"});
const dx=d3.scaleLinear().domain([-20,40]).range([1025.5,1394.9]);
const dy=d3.scaleLinear().domain([-50,25]).range([932.3,662.3]);
const gD=svg.append("g");
pcaSeries.forEach((pts,i)=>gD.append("g").selectAll("circle").data(pts).join("circle").attr("cx",d=>dx(d[0])).attr("cy",d=>dy(d[1])).attr("r",3.5).attr("fill",clusterColors[i]));
gD.append("rect").attr("x",918.7).attr("y",645.3).attr("width",496.3).attr("height",374.7).attr("fill","none").attr("stroke","#1a1a1a").attr("stroke-width",1.8);
const fmtMinus=d=>d3.format("")(d).replace("-","\u2212");
const axD=gD.append("g").attr("transform","translate(0,1020)").call(d3.axisBottom(dx).tickValues([-20,0,20,40]).tickFormat(fmtMinus).tickSize(4).tickPadding(3));
axD.select(".domain").remove();axD.selectAll("text").attr("font-size",13.5).style("fill","#4d4d4d");axD.selectAll("line").attr("stroke","#333");
const ayD=gD.append("g").attr("transform","translate(918.7,0)").call(d3.axisLeft(dy).tickValues([-50,-25,0,25]).tickFormat(fmtMinus).tickSize(4).tickPadding(3));
ayD.select(".domain").remove();ayD.selectAll("text").attr("font-size",13.5).style("fill","#4d4d4d");ayD.selectAll("line").attr("stroke","#333");
txt(gD,1197,1049,"PC1",16.5,{anchor:"middle"});
txt(gD,875,798,"PC2",16.5,{anchor:"middle",rot:-90});
gD.append("rect").attr("x",1329.7).attr("y",875).attr("width",84.8).attr("height",145).attr("fill","#fff").attr("stroke","#1a1a1a").attr("stroke-width",1.8);
clusterNames.forEach((n,i)=>{const y=893.3+i*18.5;
  gD.append("circle").attr("cx",1347.5).attr("cy",y).attr("r",5.2).attr("fill",clusterColors[i]);
  txt(gD,1369.6,y,n,14.6,{fill:"#222"});});

// ---- Panel E
txt(svg,1144.8,1133.2,"Kaplan-Meier Overall Survival Curves",19.4,{bold:true,anchor:"middle"});
txt(svg,1144.8,1156.3,"of Pan-glioma Splicing Clusters",19.4,{bold:true,anchor:"middle"});
const ex=d3.scaleLinear().domain([0,6000]).range([950.9,1361.6]);
const ey=d3.scaleLinear().domain([0,1]).range([1567.7,1209.8]);
defs.append("clipPath").attr("id","kmclip").append("rect").attr("x",931.4).attr("y",1191.9).attr("width",450.8).attr("height",393.9);
const gE=svg.append("g");
const gKM=gE.append("g").attr("clip-path","url(#kmclip)");
const kmLine=d3.line().x(d=>ex(d[0])).y(d=>ey(d[1])).curve(d3.curveStepAfter);
kmSeries.forEach((s,i)=>{
  gKM.append("path").attr("d",kmLine(s)).attr("fill","none").attr("stroke",clusterColors[i]).attr("stroke-width",2.5);
  const bis=d3.bisector(d=>d[0]).right;
  gKM.append("g").selectAll("line").data(kmCensored[i]).join("line")
    .attr("x1",d=>ex(d)).attr("x2",d=>ex(d))
    .attr("y1",d=>ey(s[Math.max(0,bis(s,d)-1)][1])-2.5).attr("y2",d=>ey(s[Math.max(0,bis(s,d)-1)][1])+2.5)
    .attr("stroke",clusterColors[i]).attr("stroke-width",1);
});
gE.append("rect").attr("x",931.4).attr("y",1191.9).attr("width",450.8).attr("height",393.9).attr("fill","none").attr("stroke","#1a1a1a").attr("stroke-width",1.8);
const axE=gE.append("g").attr("transform","translate(0,1585.8)").call(d3.axisBottom(ex).tickValues([0,2000,4000,6000]).tickFormat(d3.format("d")).tickSize(4).tickPadding(6));
axE.select(".domain").remove();axE.selectAll("text").attr("font-size",15.7);axE.selectAll("line").attr("stroke","#222");
const ayE=gE.append("g").attr("transform","translate(931.4,0)").call(d3.axisLeft(ey).tickValues([0,.25,.5,.75,1]).tickFormat(d3.format(".2f")).tickSize(4).tickPadding(5));
ayE.select(".domain").remove();ayE.selectAll("text").attr("font-size",15.7);ayE.selectAll("line").attr("stroke","#222");
txt(gE,1161,1636,"Time since diagnosis (days)",19.4,{anchor:"middle"});
txt(gE,865,1380,"Survival probability",19.4,{anchor:"middle",rot:-90});
txt(gE,1226,1201,"Hazard Ratios:",12,{bold:true});
gE.append("line").attr("x1",1226).attr("x2",1358).attr("y1",1210.5).attr("y2",1210.5).attr("stroke","#222").attr("stroke-width",1);
hazardLabels.forEach((s,i)=>{const y=1222.3+i*17.13;
  gE.append("line").attr("x1",1235.5).attr("x2",1247.5).attr("y1",y).attr("y2",y).attr("stroke",clusterColors[i]).attr("stroke-width",2.2);
  gE.append("line").attr("x1",1241.5).attr("x2",1241.5).attr("y1",y-2.5).attr("y2",y+2.5).attr("stroke",clusterColors[i]).attr("stroke-width",1);
  txt(gE,1253.5,y,s,11.4);});
</script></body></html>
